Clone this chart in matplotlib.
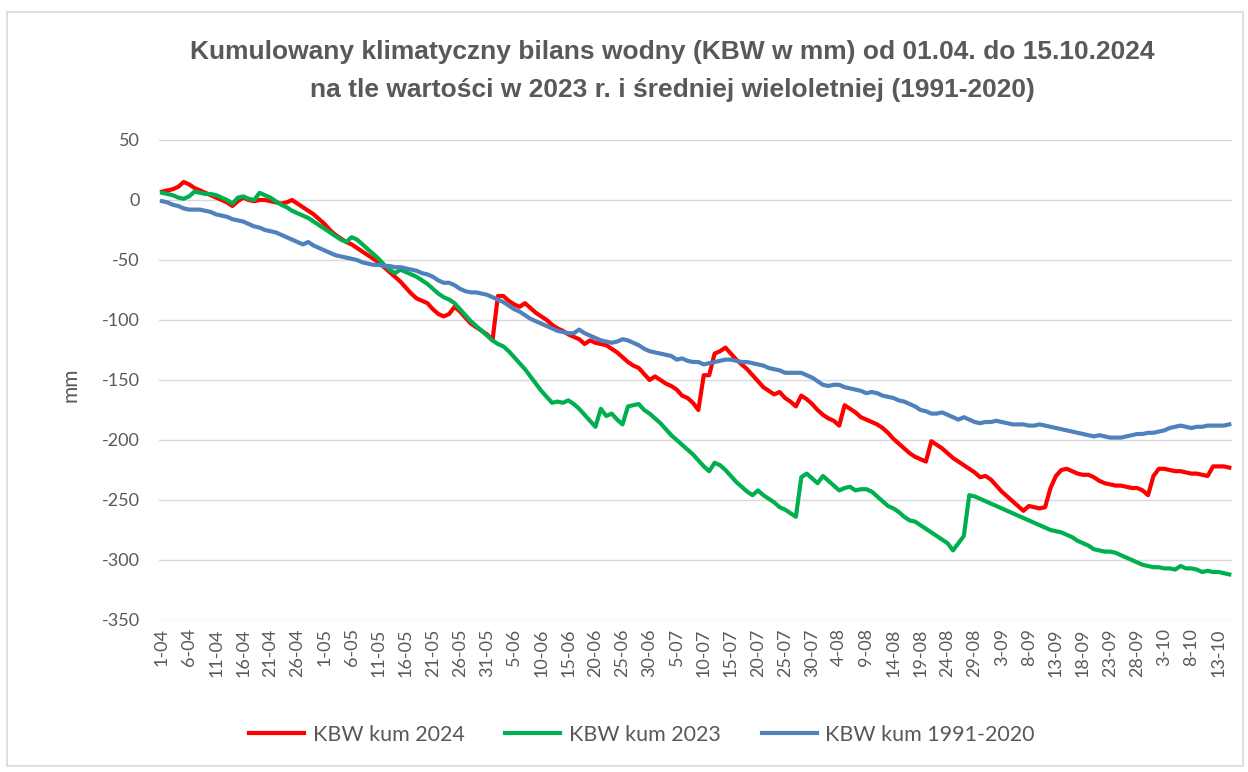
import matplotlib
matplotlib.use("Agg")
import matplotlib.pyplot as plt
import pandas as pd
from matplotlib.patches import Rectangle

# daily cumulative KBW values [mm], 01.04 - 15.10
kbw_2024 = [
    7, 8, 9, 11, 15, 13, 10, 8, 6, 4,
    2, 0, -2, -5, -1, 2, 0, -1, 0, 0,
    -1, -2, -3, -2, 0, -3, -6, -9, -12, -16,
    -20, -25, -29, -32, -35, -37, -40, -43, -46, -49,
    -52, -56, -60, -64, -68, -73, -78, -82, -84, -86,
    -91, -95, -97, -95, -89, -93, -98, -103, -106, -109,
    -112, -117, -80, -80, -84, -87, -89, -86, -90, -94,
    -97, -100, -104, -107, -109, -112, -114, -116, -120, -117,
    -119, -120, -121, -124, -127, -131, -135, -138, -140, -145,
    -150, -147, -150, -153, -155, -158, -163, -165, -169, -175,
    -146, -146, -128, -126, -123, -128, -133, -137, -141, -146,
    -151, -156, -159, -162, -160, -165, -168, -172, -163, -166,
    -170, -175, -179, -182, -184, -188, -171, -174, -177, -181,
    -183, -185, -187, -190, -194, -199, -203, -207, -211, -214,
    -216, -218, -201, -204, -207, -211, -215, -218, -221, -224,
    -227, -231, -230, -233, -238, -243, -247, -251, -255, -259,
    -255, -256, -257, -256, -240, -230, -225, -224, -226, -228,
    -229, -229, -231, -234, -236, -237, -238, -238, -239, -240,
    -240, -242, -246, -230, -224, -224, -225, -226, -226, -227,
    -228, -228, -229, -230, -222, -222, -222, -223,
]

kbw_2023 = [
    6, 5, 4, 2, 1, 3, 7, 6, 5, 5,
    4, 2, 0, -3, 2, 3, 1, 0, 6, 4,
    2, -1, -4, -6, -9, -11, -13, -15, -18, -21,
    -24, -27, -30, -33, -35, -31, -33, -37, -41, -45,
    -49, -54, -58, -61, -58, -60, -62, -64, -67, -70,
    -74, -78, -81, -83, -86, -91, -96, -101, -105, -109,
    -113, -117, -120, -122, -126, -131, -136, -141, -147, -153,
    -159, -164, -169, -168, -169, -167, -170, -174, -179, -184,
    -189, -174, -180, -178, -183, -187, -172, -171, -170, -175,
    -178, -182, -186, -191, -196, -200, -204, -208, -212, -217,
    -222, -226, -219, -221, -225, -230, -235, -239, -243, -246,
    -242, -246, -249, -252, -256, -258, -261, -264, -231, -228,
    -232, -236, -230, -234, -238, -242, -240, -239, -242, -241,
    -241, -243, -247, -251, -255, -257, -260, -264, -267, -268,
    -271, -274, -277, -280, -283, -286, -292, -286, -280, -246,
    -247, -249, -251, -253, -255, -257, -259, -261, -263, -265,
    -267, -269, -271, -273, -275, -276, -277, -279, -281, -284,
    -286, -288, -291, -292, -293, -293, -294, -296, -298, -300,
    -302, -304, -305, -306, -306, -307, -307, -308, -305, -307,
    -307, -308, -310, -309, -310, -310, -311, -312,
]

kbw_norm = [
    -1, -2, -4, -5, -7, -8, -8, -8, -9, -10,
    -12, -13, -14, -16, -17, -18, -20, -22, -23, -25,
    -26, -27, -29, -31, -33, -35, -37, -35, -38, -40,
    -42, -44, -46, -47, -48, -49, -50, -52, -53, -54,
    -54, -55, -55, -56, -56, -57, -58, -59, -61, -62,
    -64, -67, -69, -69, -71, -74, -76, -77, -77, -78,
    -79, -81, -83, -85, -88, -91, -93, -96, -99, -101,
    -103, -105, -107, -109, -110, -111, -111, -108, -111, -113,
    -115, -117, -118, -119, -118, -116, -117, -119, -121, -124,
    -126, -127, -128, -129, -130, -133, -132, -134, -135, -135,
    -137, -136, -135, -134, -133, -133, -134, -135, -135, -136,
    -137, -138, -140, -141, -142, -144, -144, -144, -144, -146,
    -148, -151, -154, -155, -154, -154, -156, -157, -158, -159,
    -161, -160, -161, -163, -164, -165, -167, -168, -170, -172,
    -175, -176, -178, -178, -177, -179, -181, -183, -181, -183,
    -185, -186, -185, -185, -184, -185, -186, -187, -187, -187,
    -188, -188, -187, -188, -189, -190, -191, -192, -193, -194,
    -195, -196, -197, -196, -197, -198, -198, -198, -197, -196,
    -195, -195, -194, -194, -193, -192, -190, -189, -188, -189,
    -190, -189, -189, -188, -188, -188, -188, -187,
]

series_names = ["KBW kum 2024", "KBW kum 2023", "KBW kum 1991-2020"]
series_colors = ["#FF0000", "#00B050", "#4F81BD"]

dates = pd.date_range("2024-04-01", "2024-10-15", freq="D")
tick_idx = list(range(0, len(dates), 5))
tick_labels = [f"{dates[i].day}-{dates[i].month:02d}" for i in tick_idx]

txt_color = "#595959"
plt.rcParams["font.family"] = ["Lato", "DejaVu Sans"]
plt.rcParams["axes.unicode_minus"] = False
title_font = ["Liberation Sans Narrow", "Liberation Sans", "DejaVu Sans"]

fig = plt.figure(figsize=(12.48, 7.72), dpi=100)
# light chart frame like in the Excel export
fig.patches.append(Rectangle((7 / 1248, 6 / 772), 1236 / 1248, 754 / 772,
                             transform=fig.transFigure, fill=False,
                             edgecolor="#D9D9D9", lw=1.2))

ax = fig.add_axes([159.3 / 1248, 1 - 620 / 772, 1072.7 / 1248, 480 / 772])

x = list(range(len(dates)))
for vals, name, col in zip([kbw_2024, kbw_2023, kbw_norm], series_names, series_colors):
    ax.plot(x, vals, color=col, lw=3, label=name, solid_joinstyle="round")

ax.set_xlim(-0.5, len(dates) - 0.5)
ax.set_ylim(-350, 50)
ax.set_yticks(range(-350, 51, 50))
ax.set_xticks(tick_idx)
ax.set_xticklabels(tick_labels, rotation=90)
ax.tick_params(axis="both", length=0, labelsize=13, colors=txt_color)
ax.tick_params(axis="x", pad=6)
ax.tick_params(axis="y", pad=14)
ax.grid(axis="y", color="#D9D9D9", lw=1)
ax.set_axisbelow(True)
for s in ax.spines.values():
    s.set_visible(False)

fig.text(70 / 1248, 1 - 385 / 772, "mm", rotation=90, ha="center", va="center",
         fontsize=15, color=txt_color)

fig.text(672 / 1248, 1 - 52 / 772,
         "Kumulowany klimatyczny bilans wodny (KBW w mm) od 01.04. do 15.10.2024",
         ha="center", va="center", fontsize=19, fontweight="bold",
         color=txt_color, family=title_font)
fig.text(672 / 1248, 1 - 90 / 772,
         "na tle wartości w 2023 r. i średniej wieloletniej (1991-2020)",
         ha="center", va="center", fontsize=19, fontweight="bold",
         color=txt_color, family=title_font)

fig.legend(loc="center", bbox_to_anchor=(642 / 1248, 1 - 735 / 772), ncol=3,
           frameon=False, fontsize=15.5, labelcolor=txt_color,
           handlelength=2.55, handletextpad=0.4, columnspacing=1.9)

fig.savefig("out.png", dpi=100)
